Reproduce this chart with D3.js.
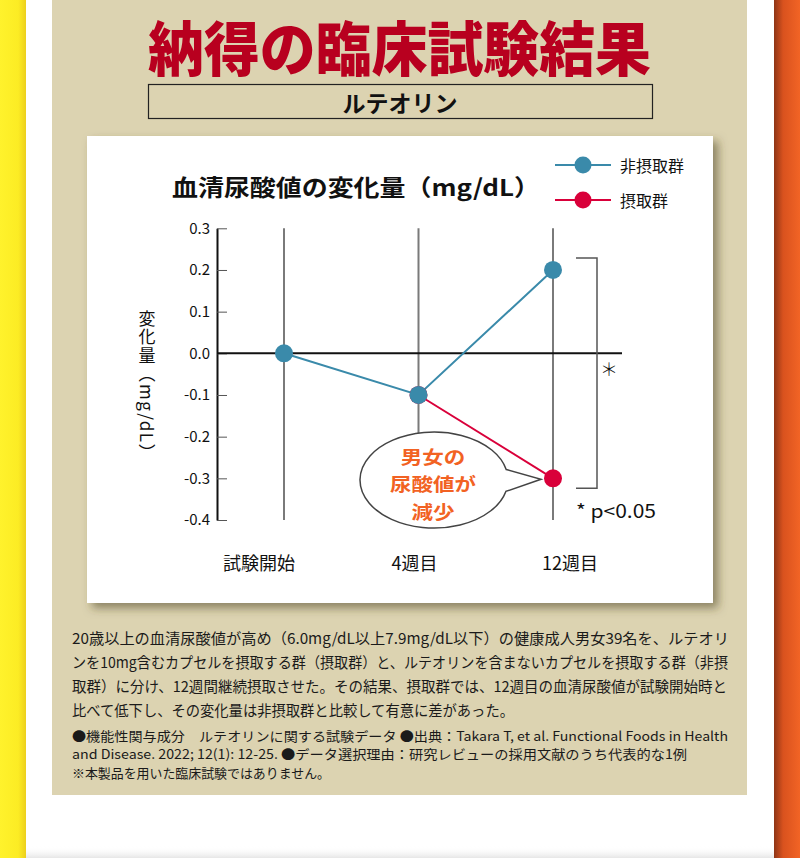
<!DOCTYPE html>
<html><head><meta charset="utf-8">
<script src="https://cdn.jsdelivr.net/npm/d3@7"></script>
<style>
html,body{margin:0;padding:0;background:#fff;}
svg{display:block;}
text{font-family:"Noto Sans CJK JP","Noto Sans",sans-serif;}
</style></head>
<body>
<script>
// ---- data ----
const categories = ["試験開始", "4週目", "12週目"];
const seriesNames = ["非摂取群", "摂取群"];
const nonIntake = [0.0, -0.1, 0.2];
const intake = [null, -0.1, -0.3];
const yTicks = [0.3, 0.2, 0.1, 0.0, -0.1, -0.2, -0.3, -0.4];
const seriesColors = ["#3a8aaa", "#d9003a"];
const title = "納得の臨床試験結果";
const subtitle = "ルテオリン";
const chartTitle = "血清尿酸値の変化量（mg/dL）";
const yTitle = "変化量（mg/dL）";
const calloutLines = ["男女の", "尿酸値が", "減少"];
const paragraph = [
  "20歳以上の血清尿酸値が高め（6.0mg/dL以上7.9mg/dL以下）の健康成人男女39名を、ルテオリ",
  "ンを10mg含むカプセルを摂取する群（摂取群）と、ルテオリンを含まないカプセルを摂取する群（非摂",
  "取群）に分け、12週間継続摂取させた。その結果、摂取群では、12週目の血清尿酸値が試験開始時と",
  "比べて低下し、その変化量は非摂取群と比較して有意に差があった。"
];
const notes = [
  "●機能性関与成分　ルテオリンに関する試験データ ●出典：Takara T, et al. Functional Foods in Health",
  "and Disease. 2022; 12(1): 12-25. ●データ選択理由：研究レビューの採用文献のうち代表的な1例",
  "※本製品を用いた臨床試験ではありません。"
];

const W = 800, H = 858;
const svg = d3.select("body").append("svg").attr("width", W).attr("height", H);
const defs = svg.append("defs");

const gy = defs.append("linearGradient").attr("id", "gy");
gy.append("stop").attr("offset", "0%").attr("stop-color", "#fff22c");
gy.append("stop").attr("offset", "70%").attr("stop-color", "#fcec24");
gy.append("stop").attr("offset", "100%").attr("stop-color", "#eccf1c");
const go = defs.append("linearGradient").attr("id", "go");
go.append("stop").attr("offset", "0%").attr("stop-color", "#8e3516");
go.append("stop").attr("offset", "35%").attr("stop-color", "#d9521e");
go.append("stop").attr("offset", "100%").attr("stop-color", "#f26425");
const gb = defs.append("linearGradient").attr("id", "gb").attr("x1", 0).attr("x2", 0).attr("y1", 0).attr("y2", 1);
gb.append("stop").attr("offset", "0%").attr("stop-color", "#fff").attr("stop-opacity", 0);
gb.append("stop").attr("offset", "100%").attr("stop-color", "#e6e6e6").attr("stop-opacity", 1);
const f = defs.append("filter").attr("id", "sh").attr("x", "-10%").attr("y", "-10%").attr("width", "130%").attr("height", "130%");
f.append("feDropShadow").attr("dx", 5).attr("dy", 5).attr("stdDeviation", 5)
  .attr("flood-color", "#4a4020").attr("flood-opacity", 0.55);

// background
svg.append("rect").attr("width", W).attr("height", H).attr("fill", "#fff");
svg.append("rect").attr("x", 52).attr("y", 0).attr("width", 695).attr("height", 795).attr("fill", "#dcd3b1");
svg.append("rect").attr("x", 0).attr("y", 0).attr("width", 26).attr("height", H).attr("fill", "url(#gy)");
svg.append("rect").attr("x", 774).attr("y", 0).attr("width", 26).attr("height", H).attr("fill", "url(#go)");
svg.append("rect").attr("x", 26).attr("y", 846).attr("width", 748).attr("height", 12).attr("fill", "url(#gb)");

// title
svg.append("text").attr("x", 148).attr("y", 71).attr("textLength", 503).attr("lengthAdjust", "spacingAndGlyphs")
  .attr("font-size", 59).attr("font-weight", 900).attr("fill", "#b8001f").text(title);
svg.append("rect").attr("x", 148.5).attr("y", 84.5).attr("width", 504).attr("height", 34)
  .attr("fill", "none").attr("stroke", "#222").attr("stroke-width", 1.2);
svg.append("text").attr("x", 400).attr("y", 102).attr("text-anchor", "middle").attr("dominant-baseline", "central")
  .attr("font-size", 23).attr("font-weight", 700).attr("fill", "#111").text(subtitle);

// card
svg.append("rect").attr("x", 87).attr("y", 136).attr("width", 626).attr("height", 467)
  .attr("fill", "#fff").attr("filter", "url(#sh)");

// chart title
svg.append("text").attr("x", 172).attr("y", 196).attr("textLength", 368).attr("lengthAdjust", "spacingAndGlyphs")
  .attr("font-size", 23).attr("font-weight", 700).attr("fill", "#111").text(chartTitle);

// scales
const x = d3.scalePoint().domain(categories).range([284, 553]);
const xLab = d3.scalePoint().domain(categories).range([259, 570]);
const y = d3.scaleLinear().domain([-0.4, 0.3]).range([520, 228.3]);

// gridlines
svg.append("g").selectAll("line").data(categories).join("line")
  .attr("x1", d => x(d)).attr("x2", d => x(d))
  .attr("y1", y(0.3)).attr("y2", y(-0.4))
  .attr("stroke", "#7a7a7a").attr("stroke-width", 2);

// y axis
const fmt = v => (v < 0 ? "-" : "") + Math.abs(v).toFixed(1);
const ax = svg.append("g").attr("transform", "translate(217,0)")
  .call(d3.axisLeft(y).tickValues(yTicks).tickFormat(fmt).tickSizeInner(-10).tickSizeOuter(0).tickPadding(7));
ax.select(".domain").attr("stroke", "#111").attr("stroke-width", 2);
ax.selectAll(".tick line").attr("stroke", "#555").attr("stroke-width", 1);
ax.selectAll(".tick text").attr("font-size", 15).attr("fill", "#111")
  .attr("font-family", "'Noto Sans','Noto Sans CJK JP',sans-serif");

// zero line
svg.append("line").attr("x1", 217).attr("x2", 622).attr("y1", y(0)).attr("y2", y(0))
  .attr("stroke", "#111").attr("stroke-width", 2);

// y axis title (vertical writing)
svg.append("text").attr("x", 147).attr("y", 310)
  .attr("writing-mode", "vertical-rl").style("writing-mode", "vertical-rl")
  .attr("font-size", 17).attr("fill", "#111").attr("letter-spacing", 1.5).text(yTitle);

// x labels
svg.append("g").selectAll("text").data(categories).join("text")
  .attr("x", d => xLab(d)).attr("y", 562).attr("text-anchor", "middle").attr("dominant-baseline", "central")
  .attr("font-size", 18).attr("fill", "#111").text(d => d);

// bracket + significance
const bx = x(categories[2]);
svg.append("path")
  .attr("d", `M${bx + 23},${y(0.2) - 12}H${bx + 44}V${y(-0.3) + 10}H${bx + 23}`)
  .attr("fill", "none").attr("stroke", "#555").attr("stroke-width", 1.5);
svg.append("text").attr("x", bx + 56).attr("y", y(0) + 15).attr("text-anchor", "middle").attr("dominant-baseline", "central")
  .attr("font-size", 18).attr("font-weight", 300).attr("fill", "#111").text("＊");
svg.append("text").attr("x", 576).attr("y", 510).attr("dominant-baseline", "central")
  .attr("font-size", 18.5).attr("fill", "#111").attr("font-family", "'Noto Sans',sans-serif")
  .attr("textLength", 80).attr("lengthAdjust", "spacingAndGlyphs").text("* p<0.05");

// series
const line = d3.line().defined(d => d.v !== null).x(d => x(d.c)).y(d => y(d.v));
const allSeries = [intake, nonIntake];
const colorsDraw = [seriesColors[1], seriesColors[0]];
allSeries.forEach((vals, si) => {
  const pts = categories.map((c, i) => ({ c, v: vals[i] }));
  svg.append("path").datum(pts).attr("d", line).attr("fill", "none")
    .attr("stroke", colorsDraw[si]).attr("stroke-width", 2);
});
allSeries.forEach((vals, si) => {
  const pts = categories.map((c, i) => ({ c, v: vals[i] })).filter(d => d.v !== null);
  svg.append("g").selectAll("circle").data(pts).join("circle")
    .attr("cx", d => x(d.c)).attr("cy", d => y(d.v)).attr("r", 9).attr("fill", colorsDraw[si]);
});

// legend
const lg = svg.append("g");
seriesNames.forEach((n, i) => {
  const ly = 165 + i * 35;
  lg.append("line").attr("x1", 555).attr("x2", 611).attr("y1", ly).attr("y2", ly)
    .attr("stroke", seriesColors[i]).attr("stroke-width", 2);
  lg.append("circle").attr("cx", 583).attr("cy", ly).attr("r", 8.5).attr("fill", seriesColors[i]);
  lg.append("text").attr("x", 620).attr("y", ly).attr("dominant-baseline", "central")
    .attr("font-size", 16).attr("fill", "#111").text(n);
});

// callout bubble
const cx = 434, cy = 480, rx = 74, ry = 48;
const tip = [x(categories[2]) - 12, y(-0.3) + 1];
const a1 = -0.22, a2 = 0.24;
const p1 = [cx + rx * Math.cos(a1), cy + ry * Math.sin(a1)];
const p2 = [cx + rx * Math.cos(a2), cy + ry * Math.sin(a2)];
svg.append("path")
  .attr("d", `M${p1[0]},${p1[1]}L${tip[0]},${tip[1]}L${p2[0]},${p2[1]}A${rx},${ry} 0 1 1 ${p1[0]},${p1[1]}Z`)
  .attr("fill", "#fff").attr("stroke", "#444").attr("stroke-width", 1.5);
calloutLines.forEach((t, i) => {
  const w = t.length * 21.5;
  svg.append("text").attr("x", cx - 1 - w / 2).attr("y", 463.5 + i * 27.5)
    .attr("font-size", 18.5).attr("font-weight", 700).attr("fill", "#f26223")
    .attr("textLength", w).attr("lengthAdjust", "spacingAndGlyphs").text(t);
});

// paragraph
const pw = [657, 656, 655, 442];
paragraph.forEach((t, i) => {
  svg.append("text").attr("x", 72).attr("y", 637 + i * 24).attr("dominant-baseline", "central")
    .attr("font-size", 15).attr("fill", "#1a1a1a")
    .attr("textLength", pw[i]).attr("lengthAdjust", "spacingAndGlyphs").text(t);
});
const nw = [656, 615, 258];
notes.forEach((t, i) => {
  svg.append("text").attr("x", 72).attr("y", 735 + i * 18.5).attr("dominant-baseline", "central")
    .attr("font-size", 13).attr("fill", "#1a1a1a").attr("textLength", nw[i]).attr("lengthAdjust", "spacingAndGlyphs").text(t);
});
</script>
</body></html>
